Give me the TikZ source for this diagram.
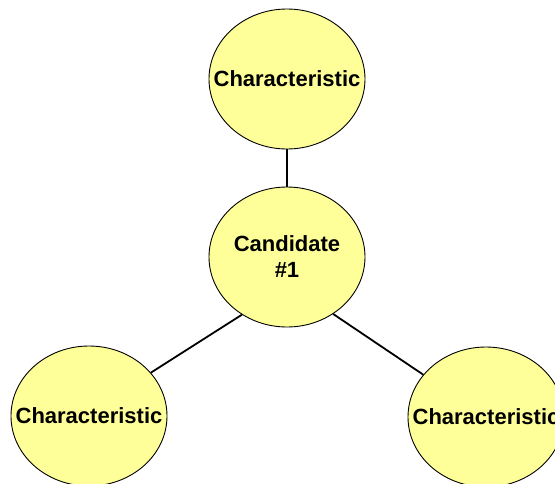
\documentclass[tikz,border=0pt]{standalone}
\usepackage{fontspec}
\setmainfont{Liberation Sans}
\usetikzlibrary{shapes.geometric}
\definecolor{bubblefill}{HTML}{FFFF99}
\tikzset{
  bubble/.style={ellipse, draw=black, line width=0.9pt, fill=bubblefill,
    minimum width=156pt, minimum height=140pt, inner sep=0pt},
  label text/.style={font=\bfseries\fontsize{22}{26}\selectfont, align=center, inner sep=0pt},
  link/.style={draw=black, line width=1.8pt}
}
\begin{document}
\begin{tikzpicture}[x=1pt,y=-1pt]
\useasboundingbox (0,0) rectangle (555,483);
\clip (0,0) rectangle (555,483);
\fill[white] (0,0) rectangle (555,483);
\node[bubble] (top) at (287,79) {};
\node[bubble] (cand) at (287,257) {};
\node[bubble] (left) at (89,416) {};
\node[bubble] (right) at (486,417) {};
\node[label text] (topt) at (top.center) {Characteristic};
\node[label text] (candt) at (cand.center) {Candidate\\\#1};
\node[label text] (leftt) at (left.center) {Characteristic};
\node[label text] (rightt) at (right.center) {Characteristic};
\draw[link] (top.south) -- (cand.north);
\draw[link] (cand.232) -- (left.35);
\draw[link] (cand.-51) -- (right.146);
\end{tikzpicture}
\end{document}
